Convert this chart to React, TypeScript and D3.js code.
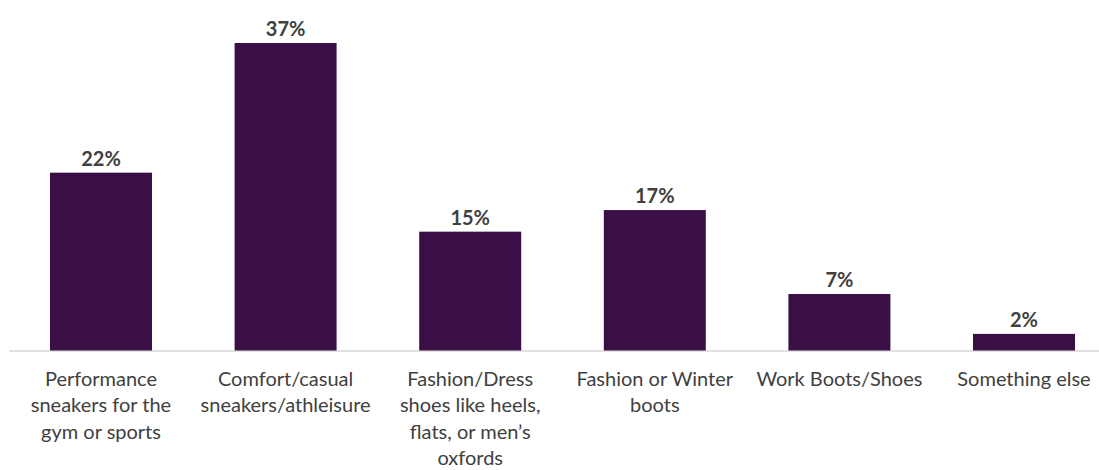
import React from "react";
import * as d3 from "d3";

const categories: string[][] = [
  ["Performance", "sneakers for the", "gym or sports"],
  ["Comfort/casual", "sneakers/athleisure"],
  ["Fashion/Dress", "shoes like heels,", "flats, or men\u2019s", "oxfords"],
  ["Fashion or Winter", "boots"],
  ["Work Boots/Shoes"],
  ["Something else"],
];
const values: number[] = [21.4, 37, 14.3, 16.9, 6.8, 2.0];
const valueLabels: string[] = ["22%", "37%", "15%", "17%", "7%", "2%"];

const W = 1099;
const H = 470;
const BAR = "#3a0f46";
const FONT = "Lato, 'Open Sans', sans-serif";

export default function App() {
  const ids = categories.map((_, i) => String(i));
  const x = d3
    .scaleBand<string>()
    .domain(ids)
    .range([8.7, 1116.3])
    .paddingInner(0.4475)
    .paddingOuter(0.2237);
  const y = d3.scaleLinear().domain([0, 40]).range([350.5, 18.1]);

  return (
    <svg
      width={W}
      height={H}
      style={{ position: "absolute", left: 0, top: 0, background: "#fff" }}
    >
      <line x1={9} x2={W} y1={351} y2={351} stroke="#d9d9d9" strokeWidth={1.5} />
      {values.map((v, i) => {
        const bx = x(ids[i])!;
        const bw = x.bandwidth();
        return (
          <g key={i}>
            <rect x={bx} y={y(v)} width={bw} height={y(0) - y(v)} fill={BAR} />
            <text
              x={bx + bw / 2}
              y={y(v) - 7}
              textAnchor="middle"
              fontFamily={FONT}
              fontWeight={700}
              fontSize={20}
              fill="#404040"
            >
              {valueLabels[i]}
            </text>
            {categories[i].map((line, j) => (
              <text
                key={j}
                x={bx + bw / 2}
                y={385.5 + j * 26.5}
                textAnchor="middle"
                fontFamily={FONT}
                fontSize={20}
                fill="#404040"
              >
                {line}
              </text>
            ))}
          </g>
        );
      })}
    </svg>
  );
}
